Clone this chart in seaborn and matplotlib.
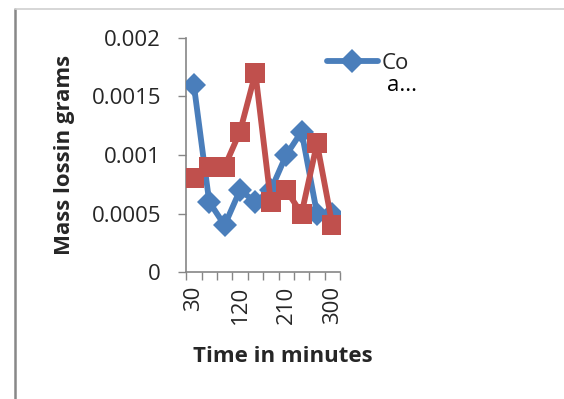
import matplotlib
matplotlib.use("Agg")
import matplotlib.pyplot as plt
from matplotlib.lines import Line2D
from matplotlib.ticker import FixedLocator
import seaborn as sns
import pandas as pd
import numpy as np

# Sampling times (minutes) and mass loss (grams) for the two series
times = [30, 60, 90, 120, 150, 180, 210, 240, 270, 300]
series_blue = [0.0016, 0.0006, 0.0004, 0.0007, 0.0006, 0.0007, 0.0010, 0.0012, 0.0005, 0.0005]
series_red = [0.0008, 0.0009, 0.0009, 0.0012, 0.0017, 0.0006, 0.0007, 0.0005, 0.0011, 0.0004]
legend_label = "Co"
legend_more = "a..."
shown_ticks = [30, 120, 210, 300]
y_ticks = [0, 0.0005, 0.001, 0.0015, 0.002]
y_tick_labels = ["0", "0.0005", "0.001", "0.0015", "0.002"]

sns.set_theme(style="white")
plt.rcParams["font.family"] = ["Open Sans", "DejaVu Sans"]
FS = 16

fig = plt.figure(figsize=(5.64, 3.99), dpi=100)
ax = fig.add_axes([0.330, 0.318, 0.273, 0.587])

pos = np.arange(len(times))
df = pd.DataFrame({"pos": np.concatenate([pos, pos]),
                   "loss": series_blue + series_red,
                   "series": ["blue"] * len(times) + ["red"] * len(times)})

blue = "#4a7ebb"
red = "#c0504d"
sns.lineplot(data=df[df.series == "blue"], x="pos", y="loss", ax=ax,
             color=blue, linewidth=4.2, marker="D", markersize=12,
             markeredgewidth=0, label=legend_label, zorder=3)
sns.lineplot(data=df[df.series == "red"], x="pos", y="loss", ax=ax,
             color=red, linewidth=4.2, marker="s", markersize=14,
             markeredgewidth=0, label="_nolegend_", zorder=4)

ax.set_xlim(-0.5, len(times) - 0.5)
ax.set_ylim(0, 0.002)
ax.set_yticks(y_ticks)
ax.set_yticklabels(y_tick_labels, fontsize=FS)

# Category labels every third point; tick marks on category boundaries
ax.set_xticks([times.index(t) for t in shown_ticks])
ax.set_xticklabels([str(t) for t in shown_ticks], rotation=90, fontsize=FS)
ax.xaxis.set_minor_locator(FixedLocator(np.arange(-0.5, len(times), 1.0)))
ax.tick_params(axis="x", which="major", length=0, pad=10)
ax.tick_params(axis="x", which="minor", length=6, width=1, color="#868686",
               direction="out", bottom=True)
ax.tick_params(axis="y", which="major", length=6, width=1, color="#868686",
               direction="out", left=True, pad=12)

for s in ["top", "right"]:
    ax.spines[s].set_visible(False)
for s in ["left", "bottom"]:
    ax.spines[s].set_color("#868686")
    ax.spines[s].set_linewidth(1.2)

ax.set_xlabel("Time in minutes", fontsize=FS, fontweight="bold")
ax.xaxis.set_label_coords(0.63, -0.315)
ax.set_ylabel("Mass lossin grams", fontsize=FS, fontweight="bold", labelpad=12)
ax.grid(False)

leg = ax.legend(loc="upper left", bbox_to_anchor=(0.913, 0.935), frameon=False,
                fontsize=FS, handlelength=2.3, handletextpad=0.15,
                borderaxespad=0, borderpad=0)
# Second line of the truncated legend entry
ax.text(1.305, 0.795, legend_more, transform=ax.transAxes, fontsize=FS,
        ha="left", va="center", color="black")

# Chart frame edges
fig.add_artist(Line2D([14.5 / 564, 14.5 / 564], [0, 1 - 9 / 399],
                      transform=fig.transFigure, color="#888888", linewidth=1.8))
fig.add_artist(Line2D([15 / 564, 1], [1 - 9 / 399, 1 - 9 / 399],
                      transform=fig.transFigure, color="#d0d0d0", linewidth=1.2))

fig.savefig("out.png", dpi=100)
